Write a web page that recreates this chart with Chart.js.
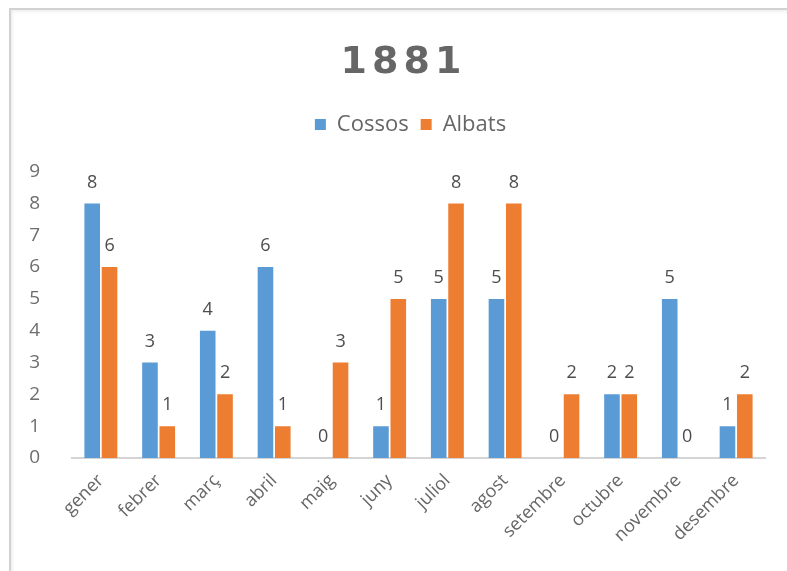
<!DOCTYPE html>
<html>
<head>
<meta charset="utf-8">
<script src="https://cdn.jsdelivr.net/npm/chart.js@4/dist/chart.umd.min.js"></script>
<style>
  html, body { margin: 0; padding: 0; background: #fff; }
  #wrap { position: relative; width: 787px; height: 571px; }
  #frame {
    position: absolute; left: 9px; top: 8px; right: 0; bottom: 0;
    border-left: 2px solid #d2d2d2; border-top: 2px solid #d2d2d2;
    box-shadow: inset 2px 2px 3px #f0f0f0;
    pointer-events: none;
  }
</style>
</head>
<body>
<div id="wrap">
  <canvas id="chart" width="787" height="571"></canvas>
  <div id="frame"></div>
</div>
<script>
const mesos = ['gener', 'febrer', 'març', 'abril', 'maig', 'juny', 'juliol', 'agost', 'setembre', 'octubre', 'novembre', 'desembre'];
const cossos = [8, 3, 4, 6, 0, 1, 5, 5, 0, 2, 5, 1];
const albats = [6, 1, 2, 1, 3, 5, 8, 8, 2, 2, 0, 2];
const ticksY = [0, 1, 2, 3, 4, 5, 6, 7, 8, 9];

const FONT = "'Open Sans', 'Noto Sans', sans-serif";

// etiquetes de valor damunt de cada barra
const etiquetes = {
    id: 'etiquetes',
    afterDatasetsDraw(chart) {
        const ctx = chart.ctx;
        ctx.save();
        ctx.font = '18px ' + FONT;
        ctx.fillStyle = '#4d4d4d';
        ctx.textAlign = 'center';
        ctx.textBaseline = 'middle';
        chart.data.datasets.forEach((ds, i) => {
            chart.getDatasetMeta(i).data.forEach((bar, j) => {
                ctx.fillText(String(ds.data[j]), bar.x, bar.y - 21);
            });
        });
        ctx.restore();
    }
};

// espai extra sota la llegenda, titol espaiat i desplaçat
const retocs = {
    id: 'retocs',
    beforeInit(chart) {
        const lg = chart.legend;
        const fitOrig = lg.fit;
        lg.fit = function () {
            fitOrig.call(lg);
            this.height += 25;
        };
        const lgDraw = lg.draw;
        lg.draw = function () {
            chart.ctx.save();
            chart.ctx.translate(23, -1);
            lgDraw.call(lg);
            chart.ctx.restore();
        };
    },
    afterInit(chart) {
        const tb = chart.titleBlock;
        const drawOrig = tb.draw;
        tb.draw = function () {
            const ctx = chart.ctx;
            ctx.save();
            ctx.letterSpacing = '5px';
            ctx.translate(16, -1);
            drawOrig.call(tb);
            ctx.restore();
        };
    }
};

new Chart(document.getElementById('chart'), {
    type: 'bar',
    data: {
        labels: mesos,
        datasets: [
            { label: 'Cossos', data: cossos, backgroundColor: '#5B9BD5' },
            { label: 'Albats', data: albats, backgroundColor: '#ED7D31' }
        ]
    },
    options: {
        responsive: false,
        animation: false,
        categoryPercentage: 0.6,
        barPercentage: 0.9,
        layout: { padding: { left: 10, right: 22, top: 0, bottom: 0 } },
        plugins: {
            title: {
                display: true,
                text: '1881',
                color: '#666666',
                font: { family: "'DejaVu Sans', sans-serif", size: 38, weight: 'bold' },
                padding: { top: 41, bottom: 16 }
            },
            legend: {
                position: 'top',
                labels: {
                    color: '#666666',
                    font: { family: FONT, size: 22 },
                    boxWidth: 11,
                    boxHeight: 11,
                    padding: 12
                }
            },
            tooltip: { enabled: false }
        },
        scales: {
            x: {
                grid: { display: false },
                border: { display: true, color: '#d4d4d4', width: 2 },
                ticks: {
                    color: '#666666',
                    font: { family: FONT, size: 18 },
                    maxRotation: 45,
                    minRotation: 45,
                    padding: 4
                },
                afterFit(scale) { scale.height = 113; }
            },
            y: {
                min: 0,
                max: 9,
                grid: { display: false },
                border: { display: false },
                afterBuildTicks(scale) { scale.ticks = ticksY.map(v => ({ value: v })); },
                ticks: {
                    color: '#6e6e6e',
                    font: { family: FONT, size: 19 },
                    padding: 24
                },
                afterFit(scale) { scale.width = 62; }
            }
        }
    },
    plugins: [etiquetes, retocs]
});
</script>
</body>
</html>
